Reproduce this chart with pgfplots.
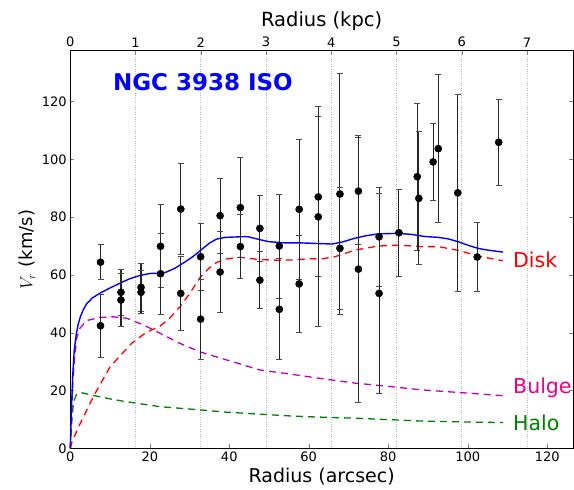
\documentclass[border=0pt]{standalone}
\usepackage{pgfplots}
\usepackage{pgfplotstable}
\pgfplotsset{compat=1.18}
\usepackage{fontspec}
\setmainfont{DejaVu Sans}
\definecolor{mplm}{rgb}{0.75,0,0.75}
\definecolor{mplg}{rgb}{0,0.5,0}
\definecolor{mplgtext}{rgb}{0,0.5,0}

\pgfplotstableread{
x y e
7.6 64.4 6.0
7.6 42.4 10.8
12.75 54.0 7.9
12.75 51.3 9.3
17.8 55.7 8.3
17.8 54.0 7.5
22.7 69.9 14.4
22.7 60.4 14.0
27.8 82.8 15.8
27.8 53.6 12.7
32.8 66.3 11.6
32.8 44.7 13.9
37.7 80.5 13.0
37.7 61.0 14.1
42.8 83.3 17.4
42.8 69.8 11.1
47.7 76.1 11.3
47.7 58.2 9.8
52.6 70.0 18.0
52.6 48.1 17.5
57.6 82.7 24.2
57.6 56.9 16.9
62.4 87.0 27.7
62.4 80.1 38.1
67.85 88.0 41.8
67.85 69.2 21.2
72.5 89.0 18.6
72.5 62.0 46.1
77.7 73.2 17.1
77.7 53.6 34.7
82.7 74.6 15.0
87.3 94.0 25.4
87.7 86.5 23.0
91.3 99.1 13.3
92.6 103.7 25.7
97.5 88.4 34.0
102.4 66.2 11.9
107.8 105.9 14.9
}\pts

\pgfplotstableread{
x y
0 0
0.3 14
0.6 25
1.0 34
1.5 39.5
2.0 43
2.6 45.8
3.3 48
4.1 50
5.5 52
7.5 53.7
10 55.5
12.9 57.4
15 58.7
17.5 59.8
20 60.5
22.6 60.6
24 60.9
26.3 62.3
29 64.6
31 66.5
32.6 68.3
35 71
36.8 72.4
39 73.0
42.7 73.2
44.8 73.2
47.7 72.2
50 71.5
54 71.1
57.8 71.1
61.6 70.9
65.8 70.7
68.5 71.4
71.6 72.7
74.5 73.6
77.5 74.2
82.5 74.4
86 74
89.2 73.3
92.6 73.0
95 72.5
97.6 71.5
100 70.3
102.6 69.2
105 68.6
108.9 67.9
}\total

\pgfplotstableread{
x y
0 0
0.5 2.5
2.4 8.3
5.8 17.9
10 28.2
15.4 36.3
19 40
22.6 42.3
25 45
27.6 49
30 53.5
32.6 59
35 62.5
36.8 64.3
39 65.5
42.7 66.1
47.7 65.3
52 65.1
56 65.2
60.3 65.6
63 65.5
66.6 66.3
71.6 68.6
77.5 70.0
82.5 70.3
88.4 69.8
92.6 69.8
98 68.4
102.6 66.5
108.9 64.9
}\disk

\pgfplotstableread{
x y
0 0
0.3 10
0.6 22
1.0 30
1.6 38
2.4 41.5
4.1 44.2
7.5 45.3
10.8 45.5
14.2 45
18.4 42.7
22.6 39.8
27.6 36.3
32.6 33.4
39.3 30.6
47.7 27.1
55.3 25.7
62.8 24.2
72 22.5
76.7 21.9
88.6 20.2
100 19.1
108.9 18.2
}\bulge

\pgfplotstableread{
x y
0 0
0.3 8
0.8 16
1.6 18.8
3 19.2
5.8 18.3
10 17.1
14.2 16.1
22.6 14.4
32.6 13.3
39.3 12.5
47.7 11.8
55.3 11.2
60.3 10.9
72 10.4
88.8 9.4
100 9.1
108.9 8.9
}\halo

\begin{document}
\begin{tikzpicture}
% top axis in kpc with dotted grid
\begin{axis}[
  scale only axis, width=502.7pt, height=397.6pt,
  xmin=0, xmax=7.704, ymin=0, ymax=137.6,
  axis x line*=top, hide y axis,
  tick align=inside, major tick length=4pt,
  xtick={0,1,2,3,4,5,6,7},
  xmajorgrids, grid style={gray!55, dotted, line width=0.7pt},
  ticklabel style={font=\fontsize{13}{15}\selectfont},
  /pgf/number format/assume math mode=true,
  xlabel={Radius (kpc)},
  xlabel style={font=\fontsize{19.5}{22}\selectfont},
  axis line style={line width=0.8pt},
]
\end{axis}
\begin{axis}[
  scale only axis, width=502.7pt, height=397.6pt,
  xmin=0, xmax=126.5, ymin=0, ymax=137.6,
  xtick={0,20,...,120}, ytick={0,20,...,120},
  xtick pos=left,
  tick align=inside, major tick length=4pt,
  ticklabel style={font=\fontsize{13}{15}\selectfont},
  /pgf/number format/assume math mode=true,
  xlabel={Radius (arcsec)},
  ylabel={$V_r$ (km/s)},
  xlabel style={font=\fontsize{19}{22}\selectfont},
  ylabel style={font=\fontsize{18}{21}\selectfont},
  axis line style={line width=0.8pt},
  clip=false,
]
\addplot[mplg, line width=1.3pt, dash pattern=on 7pt off 5pt] table[x=x,y=y]{\halo};
\addplot[mplm, line width=1.3pt, dash pattern=on 7pt off 5pt] table[x=x,y=y]{\bulge};
\addplot[red, line width=1.3pt, dash pattern=on 7pt off 5pt] table[x=x,y=y]{\disk};
\addplot[blue, line width=1.4pt] table[x=x,y=y]{\total};
\addplot[only marks, black, mark=*, mark size=3.6pt,
  error bars/.cd, y dir=both, y explicit,
  error bar style={line width=1.1pt, black!85},
  error mark options={rotate=90, mark size=3pt, line width=0.9pt, black!70}]
  table[x=x, y=y, y error=e]{\pts};
\node[anchor=west, inner sep=0pt, text=blue, font=\bfseries\fontsize{23}{26}\selectfont] at (axis cs:10.7,126.8) {NGC 3938 ISO};
\node[anchor=west, inner sep=0pt, text=red, font=\fontsize{20.5}{24}\selectfont] at (axis cs:111.4,65.2) {Disk};
\node[anchor=west, inner sep=0pt, text=magenta, font=\fontsize{20.5}{24}\selectfont] at (axis cs:111.4,20.9) {Bulge};
\node[anchor=west, inner sep=0pt, text=mplgtext, font=\fontsize{20.5}{24}\selectfont] at (axis cs:111.4,8.8) {Halo};
\coordinate (bl) at (rel axis cs:0,0);
\coordinate (tr) at (rel axis cs:1,1);
\end{axis}
\pgfresetboundingbox
\path[use as bounding box] ([shift={(-70.3pt,-40.7pt)}]bl) rectangle ([shift={(1pt,50.7pt)}]tr);
\end{tikzpicture}
\end{document}
